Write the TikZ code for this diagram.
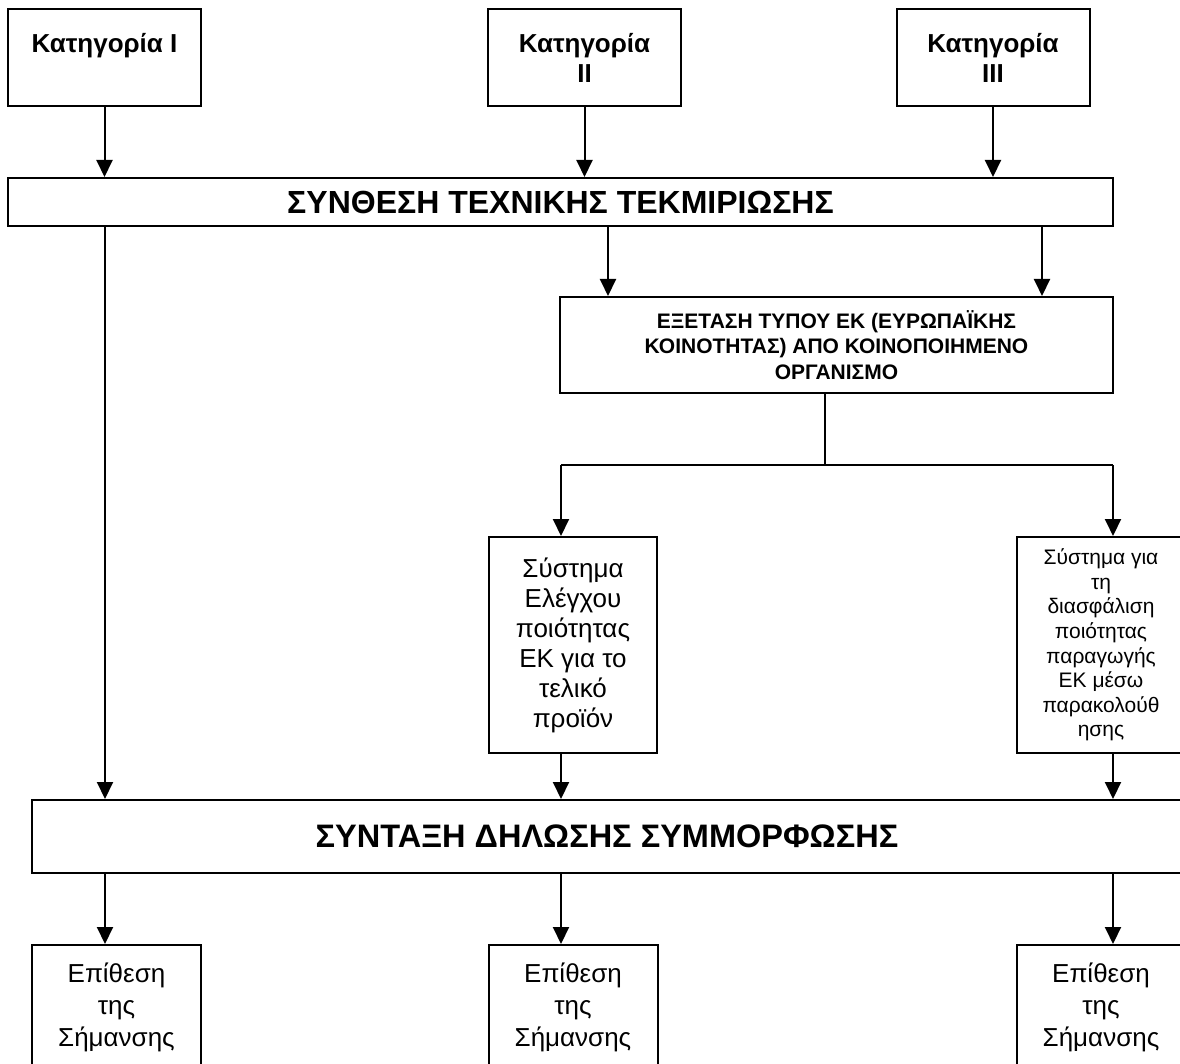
\documentclass[tikz,border=0pt]{standalone}
\usepackage{fontspec}
\setmainfont{Liberation Sans}
\usetikzlibrary{arrows.meta, positioning}
\tikzset{
  catbox/.style={rectangle, draw, line width=2pt, minimum width=193pt,
    minimum height=97pt, align=center, inner sep=0pt,
    font=\fontsize{26}{30}\selectfont\bfseries},
  widebox/.style={rectangle, draw, line width=2pt, inner sep=0pt,
    align=center, font=\fontsize{32}{36}\selectfont\bfseries},
  exambox/.style={rectangle, draw, line width=2pt, minimum width=553pt,
    minimum height=96pt, align=center, inner sep=0pt,
    font=\fontsize{21}{25.5}\selectfont\bfseries},
  tallbox/.style={rectangle, draw, line width=2pt, minimum width=168pt,
    minimum height=216pt, align=center, inner sep=0pt},
  markbox/.style={rectangle, draw, line width=2pt, minimum width=169pt,
    minimum height=124pt, align=center, inner sep=0pt,
    font=\fontsize{26}{32}\selectfont},
  link/.style={line width=2pt},
  arrow/.style={line width=2pt, -{Triangle[length=17pt,width=16pt]}}
}
\begin{document}
\begin{tikzpicture}[x=1pt, y=-1pt]
\useasboundingbox (0,0) rectangle (1180,1064);
\clip (0,0) rectangle (1180,1064);

% columns of the lower arrows
\coordinate (c1) at (105,0);
\coordinate (c2) at (561,0);
\coordinate (c3) at (1113,0);

\node (cat1)  [catbox] at (104.5,57.5) {Κατηγορία I\\~};
\node (cat2)  [catbox] at (584.5,57.5) {Κατηγορία\\II};
\node (cat3)  [catbox] at (993,57.5)   {Κατηγορία\\III};
\node (synth) [widebox, minimum width=1105pt, minimum height=48pt]
  at (560.5,202) {ΣΥΝΘΕΣΗ ΤΕΧΝΙΚΗΣ ΤΕΚΜΙΡΙΩΣΗΣ};
\node (exam)  [exambox] at (836.5,345)
  {ΕΞΕΤΑΣΗ ΤΥΠΟΥ ΕΚ (ΕΥΡΩΠΑΪΚΗΣ\\ΚΟΙΝΟΤΗΤΑΣ) ΑΠΟ ΚΟΙΝΟΠΟΙΗΜΕΝΟ\\ΟΡΓΑΝΙΣΜΟ};
\coordinate (split) at (825,465);
\node (ctrl)  [tallbox, font=\fontsize{26}{30}\selectfont] at (573,645)
  {Σύστημα\\Ελέγχου\\ποιότητας\\ΕΚ για το\\τελικό\\προϊόν};
\node (assur) [tallbox, font=\fontsize{21}{24.6}\selectfont] at (1101,645)
  {Σύστημα για\\τη\\διασφάλιση\\ποιότητας\\παραγωγής\\ΕΚ μέσω\\παρακολούθ\\ησης};
\node (decl)  [widebox, minimum width=1150pt, minimum height=73pt,
  font=\fontsize{32.5}{36}\selectfont\bfseries]
  at (607,836.5) {ΣΥΝΤΑΞΗ ΔΗΛΩΣΗΣ ΣΥΜΜΟΡΦΩΣΗΣ};
\node (mark1) [markbox] at (116.5,1007) {Επίθεση\\της\\Σήμανσης};
\node (mark2) [markbox] at (573,1007)   {Επίθεση\\της\\Σήμανσης};
\node (mark3) [markbox] at (1101,1007)  {Επίθεση\\της\\Σήμανσης};

\foreach \c in {cat1, cat2, cat3}
  \draw[arrow] (\c.south) -- (\c.south |- synth.north);
\draw[arrow] (synth.south -| c1) -- (decl.north -| c1);
\draw[arrow] ([xshift=49pt]exam.north west |- synth.south)
  -- ([xshift=49pt]exam.north west);
\draw[arrow] ([xshift=-72pt]exam.north east |- synth.south)
  -- ([xshift=-72pt]exam.north east);
\draw[link] (exam.south -| split) -- (split);
\draw[link] (split -| c2) -- (split -| c3);
\draw[arrow] (split -| c2) -- (ctrl.north -| c2);
\draw[arrow] (split -| c3) -- (assur.north -| c3);
\draw[arrow] (ctrl.south -| c2) -- (decl.north -| c2);
\draw[arrow] (assur.south -| c3) -- (decl.north -| c3);
\foreach \c/\m in {c1/mark1, c2/mark2, c3/mark3}
  \draw[arrow] (decl.south -| \c) -- (\m.north -| \c);
\end{tikzpicture}
\end{document}
